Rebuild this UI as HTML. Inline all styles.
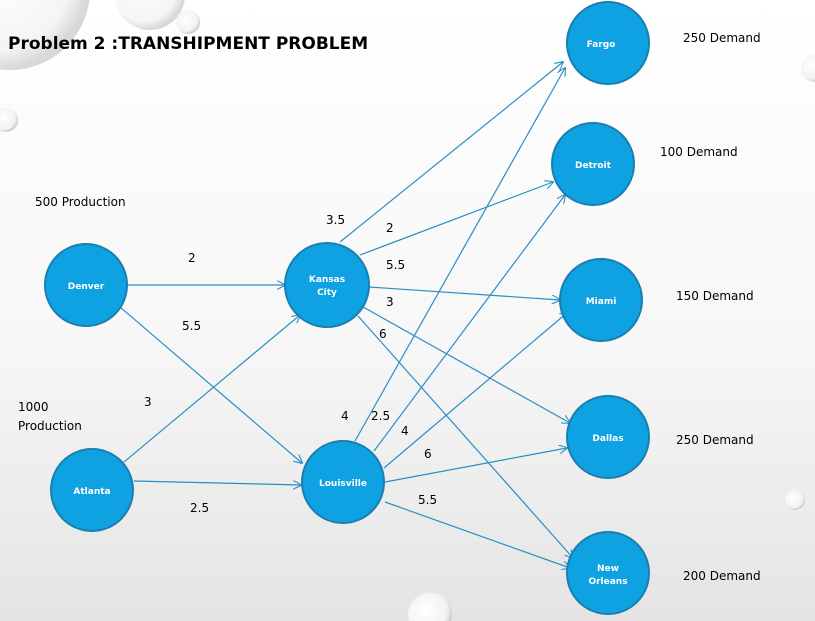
<!DOCTYPE html>
<html><head><meta charset="utf-8"><style>
html,body{margin:0;padding:0}
body{width:815px;height:621px;overflow:hidden;background:linear-gradient(#ffffff 0%,#f7f7f7 55%,#e4e4e4 100%);font-family:"DejaVu Sans","Liberation Sans",sans-serif}
</style></head><body>
<svg width="815" height="621" xmlns="http://www.w3.org/2000/svg" style="position:absolute;left:0;top:0">
<defs>
<marker id="a" viewBox="0 0 10 10" refX="9" refY="5" markerWidth="9" markerHeight="9" orient="auto-start-reverse" markerUnits="userSpaceOnUse">
<path d="M0,0 L10,5 L0,10" fill="none" stroke="#2a8fc4" stroke-width="1.2"/></marker>
<radialGradient id="bub" cx="0.4" cy="0.4" r="0.6"><stop offset="0" stop-color="#fff"/><stop offset="0.8" stop-color="#f2f2f2"/><stop offset="1" stop-color="#cfcfcf"/></radialGradient>
</defs>
<circle cx="10" cy="-10" r="80" fill="url(#bub)" opacity="0.8"/>
<circle cx="150" cy="-5" r="35" fill="url(#bub)" opacity="0.8"/>
<circle cx="188" cy="22" r="12" fill="url(#bub)"/>
<circle cx="6" cy="120" r="12" fill="url(#bub)"/>
<circle cx="815" cy="68" r="14" fill="url(#bub)"/>
<circle cx="795" cy="500" r="10" fill="url(#bub)"/>
<circle cx="430" cy="615" r="22" fill="url(#bub)"/>
<g stroke="#2a8fc4" stroke-width="1.2" fill="none" marker-end="url(#a)">
<line x1="128" y1="285" x2="285" y2="285"/>
<line x1="120" y1="307" x2="302" y2="463"/>
<line x1="124" y1="462" x2="300" y2="315"/>
<line x1="134" y1="481" x2="301" y2="485"/>
<line x1="340" y1="242" x2="563" y2="62"/>
<line x1="360" y1="255" x2="553" y2="182"/>
<line x1="369" y1="287" x2="560" y2="300"/>
<line x1="356" y1="303" x2="570" y2="423"/>
<line x1="358" y1="316" x2="573" y2="558"/>
<line x1="355" y1="441" x2="565" y2="68"/>
<line x1="374" y1="451" x2="565" y2="195"/>
<line x1="384" y1="468" x2="568" y2="312"/>
<line x1="385" y1="482" x2="567" y2="448"/>
<line x1="385" y1="502" x2="570" y2="568"/>
</g>
<g fill="#0ea2e3" stroke="#1a7fb0" stroke-width="2">
<circle cx="86" cy="285" r="41"/>
<circle cx="327" cy="285" r="42"/>
<circle cx="92" cy="490" r="41"/>
<circle cx="343" cy="482" r="41"/>
<circle cx="608" cy="43" r="41"/>
<circle cx="593" cy="164" r="41"/>
<circle cx="601" cy="300" r="41"/>
<circle cx="608" cy="437" r="41"/>
<circle cx="608" cy="573" r="41"/>
</g>
<g fill="#fff" font-size="9" font-weight="bold" text-anchor="middle">
<text x="86" y="289">Denver</text>
<text x="327" y="282">Kansas</text><text x="327" y="295">City</text>
<text x="92" y="494">Atlanta</text>
<text x="343" y="486">Louisville</text>
<text x="601" y="47">Fargo</text>
<text x="593" y="168">Detroit</text>
<text x="601" y="304">Miami</text>
<text x="608" y="441">Dallas</text>
<text x="608" y="571">New</text><text x="608" y="584">Orleans</text>
</g>
<g fill="#000" font-size="12">
<text x="188" y="262">2</text>
<text x="182" y="330">5.5</text>
<text x="144" y="406">3</text>
<text x="190" y="512">2.5</text>
<text x="326" y="224">3.5</text>
<text x="386" y="232">2</text>
<text x="386" y="269">5.5</text>
<text x="386" y="306">3</text>
<text x="379" y="338">6</text>
<text x="341" y="420">4</text>
<text x="371" y="420">2.5</text>
<text x="401" y="435">4</text>
<text x="424" y="458">6</text>
<text x="418" y="504">5.5</text>
<text x="35" y="206">500 Production</text>
<text x="18" y="411">1000</text>
<text x="18" y="430">Production</text>
<text x="683" y="42">250 Demand</text>
<text x="660" y="156">100 Demand</text>
<text x="676" y="300">150 Demand</text>
<text x="676" y="444">250 Demand</text>
<text x="683" y="580">200 Demand</text>
</g>
<text x="8" y="49" font-size="17" font-weight="bold" fill="#000">Problem 2 :TRANSHIPMENT PROBLEM</text>
</svg>
</body></html>
